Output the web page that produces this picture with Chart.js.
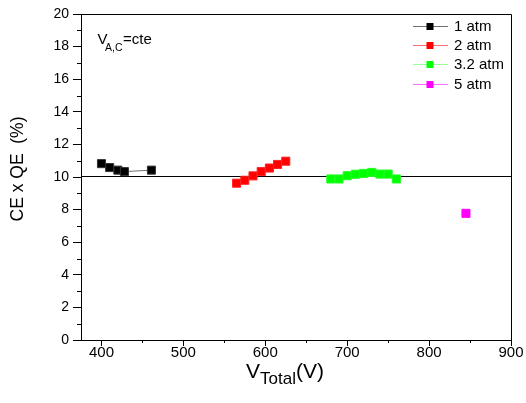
<!DOCTYPE html>
<html>
<head>
<meta charset="utf-8">
<script src="https://cdn.jsdelivr.net/npm/chart.js@4/dist/chart.umd.min.js"></script>
<style>
html,body{margin:0;padding:0;background:#fff;}
#wrap{width:526px;height:403px;}
</style>
</head>
<body>
<div id="wrap"><canvas id="c" width="526" height="403"></canvas></div>
<script>
// ---- data ----
const seriesLabels = ['1 atm', '2 atm', '3.2 atm', '5 atm'];
const v1 = [400, 410, 420, 428, 461];
const ce1 = [10.82, 10.58, 10.42, 10.33, 10.42];
const v2 = [565, 575, 585, 595, 605, 615, 625];
const ce2 = [9.62, 9.8, 10.07, 10.33, 10.55, 10.77, 10.97];
const v3 = [680, 690, 700, 710, 720, 730, 740, 750, 760];
const ce3 = [9.88, 9.88, 10.08, 10.17, 10.22, 10.28, 10.18, 10.18, 9.88];
const v4 = [845];
const ce4 = [7.77];
const refLineY = 10;
const xTicks = [400, 500, 600, 700, 800, 900];
const yTicks = [0, 2, 4, 6, 8, 10, 12, 14, 16, 18, 20];

const pointColors = ['#000000', '#ff0000', '#00ff00', '#ff00ff'];
const pointEdges = ['#333333', '#ff2020', '#20ff20', '#ff00ff'];
const lineColors = ['#707070', '#ff6a6a', '#9cff9c', '#ff6cff'];

const FONT = '"Liberation Sans", Arial, sans-serif';

function mk(xs, ys) { return xs.map((x, i) => ({ x: x, y: ys[i] })); }
const sets = [[v1, ce1], [v2, ce2], [v3, ce3], [v4, ce4]];

const datasets = sets.map((s, i) => ({
  label: seriesLabels[i],
  data: mk(s[0], s[1]),
  showLine: true,
  borderColor: lineColors[i],
  borderWidth: 1,
  pointStyle: 'rect',
  pointRadius: 5.7,
  pointBackgroundColor: pointColors[i],
  pointBorderColor: pointEdges[i],
  pointBorderWidth: 1
}));

const decor = {
  id: 'decor',
  beforeDatasetsDraw(chart) {
    const ctx = chart.ctx;
    const a = chart.chartArea;
    const py = Math.floor(chart.scales.y.getPixelForValue(refLineY)) - 0.5;
    ctx.save();
    ctx.strokeStyle = '#000';
    ctx.lineWidth = 1;
    ctx.beginPath();
    ctx.moveTo(a.left, py); ctx.lineTo(a.right, py);
    ctx.stroke();
    ctx.restore();
  },
  afterDraw(chart) {
    const ctx = chart.ctx;
    const a = chart.chartArea;
    const xs = chart.scales.x, ys = chart.scales.y;
    ctx.save();
    // frame top/right
    ctx.strokeStyle = '#000';
    ctx.lineWidth = 1;
    ctx.beginPath();
    ctx.moveTo(Math.round(a.left) + 0.5, Math.round(a.top) + 0.5);
    ctx.lineTo(Math.round(a.right) + 0.5, Math.round(a.top) + 0.5);
    ctx.lineTo(Math.round(a.right) + 0.5, Math.round(a.bottom) + 0.5);
    ctx.stroke();
    // minor ticks
    ctx.beginPath();
    for (let v = 1; v < 20; v += 2) {
      const py = Math.round(ys.getPixelForValue(v)) + 0.5;
      ctx.moveTo(a.left, py); ctx.lineTo(a.left - 4, py);
    }
    for (let v = 450; v < 900; v += 100) {
      const px = Math.round(xs.getPixelForValue(v)) + 0.5;
      ctx.moveTo(px, a.bottom); ctx.lineTo(px, a.bottom + 3);
    }
    ctx.stroke();

    // legend
    const ds = chart.data.datasets;
    const lx0 = 413, lx1 = 448, mx = 430, tx = 454;
    const rows = [25.5, 44.8, 64.3, 83.8];
    ctx.font = '15px ' + FONT;
    ctx.textBaseline = 'middle';
    ctx.textAlign = 'left';
    ds.forEach((d, i) => {
      const y = rows[i];
      ctx.strokeStyle = d.borderColor;
      ctx.beginPath();
      ctx.moveTo(lx0, Math.round(y) + 0.5); ctx.lineTo(lx1, Math.round(y) + 0.5);
      ctx.stroke();
      ctx.fillStyle = d.pointBackgroundColor;
      ctx.fillRect(mx - 3.5, Math.round(y) - 3, 7, 7);
      ctx.fillStyle = '#000';
      ctx.fillText(d.label, tx, y + 1);
    });

    // annotation V_A,C=cte
    ctx.fillStyle = '#000';
    ctx.textBaseline = 'alphabetic';
    ctx.font = '15px ' + FONT;
    ctx.fillText('V', 97.5, 43.5);
    ctx.font = '10.5px ' + FONT;
    ctx.fillText('A,C', 105, 50.5);
    ctx.font = '15px ' + FONT;
    ctx.fillText('=cte', 123, 43.5);

    // x title V_Total(V)
    ctx.font = '21px ' + FONT;
    let x = 246;
    ctx.fillText('V', x, 378);
    x += ctx.measureText('V').width;
    ctx.font = '17px ' + FONT;
    ctx.fillText('Total', x, 384);
    x += ctx.measureText('Total').width;
    ctx.font = '21px ' + FONT;
    ctx.fillText('(V)', x, 378);

    // y title
    ctx.translate(18.5, 169);
    ctx.rotate(-Math.PI / 2);
    ctx.font = '17.5px ' + FONT;
    ctx.textAlign = 'center';
    ctx.textBaseline = 'middle';
    ctx.fillText('CE x QE  (%)', 0, 0);
    ctx.restore();
  }
};

new Chart(document.getElementById('c'), {
  type: 'scatter',
  data: { datasets: datasets },
  options: {
    responsive: false,
    animation: false,
    events: [],
    layout: { padding: { left: 0, top: 14, right: 15, bottom: 0 } },
    plugins: { legend: { display: false }, tooltip: { enabled: false } },
    scales: {
      x: {
        type: 'linear', min: 375, max: 900,
        afterBuildTicks(s) { s.ticks = xTicks.map(v => ({ value: v })); },
        afterFit(s) { s.height = 63; },
        grid: { display: true, drawOnChartArea: false, drawTicks: true, tickLength: 6, color: '#000', lineWidth: 1 },
        border: { display: true, color: '#000', width: 1 },
        ticks: { color: '#000', font: { family: FONT, size: 15 }, padding: -2, maxRotation: 0 }
      },
      y: {
        type: 'linear', min: 0, max: 20,
        afterBuildTicks(s) { s.ticks = yTicks.map(v => ({ value: v })); },
        afterFit(s) { s.width = 81; },
        grid: { display: true, drawOnChartArea: false, drawTicks: true, tickLength: 8, color: '#000', lineWidth: 1 },
        border: { display: true, color: '#000', width: 1 },
        ticks: { color: '#000', font: { family: FONT, size: 14 }, padding: 4 }
      }
    }
  },
  plugins: [decor]
});
</script>
</body>
</html>
